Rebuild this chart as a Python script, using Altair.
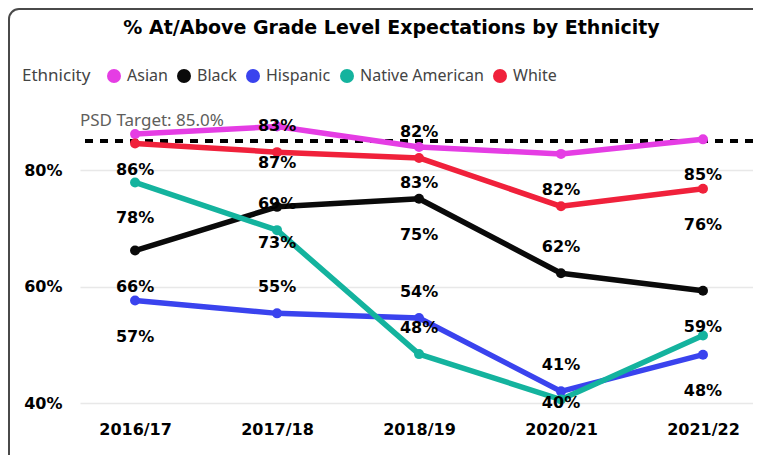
import altair as alt
import pandas as pd

periods = ["2016/17", "2017/18", "2018/19", "2020/21", "2021/22"]
groups = ["Asian", "Black", "Hispanic", "Native American", "White"]
colors = ["#E53DE4", "#0A0A0A", "#3A43EE", "#14B39E", "#F0213B"]

asian = [86.2, 87.5, 84.0, 82.8, 85.3]
black = [66.2, 73.7, 75.1, 62.3, 59.3]
hispanic = [57.6, 55.4, 54.6, 42.0, 48.3]
native_american = [77.9, 69.7, 48.4, 40.6, 51.6]
white = [84.6, 83.1, 82.1, 73.8, 76.8]

asian_labels = ["86%", "87%", "83%", "82%", "85%"]
black_labels = ["66%", "73%", "75%", "62%", "59%"]
hispanic_labels = ["57%", "55%", "54%", "41%", "48%"]
native_american_labels = ["78%", "69%", "48%", "40%", None]
white_labels = [None, "83%", "82%", None, "76%"]

asian_side = ["below", "below", "below", "below", "below"]
black_side = ["below", "below", "below", "above", "below"]
hispanic_side = ["below", "above", "above", "above", "below"]
native_american_side = ["below", "above", "above", "floor", None]
white_side = [None, "above", "above", None, "below"]

target = 85.0
y_ticks = [40, 60, 80]
y_domain = [40, 90]

series = {
    "Asian": (asian, asian_labels, asian_side),
    "Black": (black, black_labels, black_side),
    "Hispanic": (hispanic, hispanic_labels, hispanic_side),
    "Native American": (native_american, native_american_labels, native_american_side),
    "White": (white, white_labels, white_side),
}

rows = []
for g in groups:
    vals, labs, sides = series[g]
    for p, v, l, s in zip(periods, vals, labs, sides):
        rows.append({"period": p, "group": g, "value": v, "label": l, "side": s,
                     "label_y": y_domain[0] if s == "floor" else v})
df = pd.DataFrame(rows)
lab_df = df[df["label"].notna()].copy()

target_df = pd.DataFrame({"target": [target], "text": [f"PSD Target: {target:.1f}%"]})
frame_df = pd.DataFrame({"frame": [0]})

yscale = alt.Scale(domain=y_domain, nice=False, zero=False)
xscale = alt.Scale(type="point", padding=0.37, align=0.524)

x_enc = alt.X("period:N", sort=periods, scale=xscale,
              axis=alt.Axis(title=None, labelFont="DejaVu Sans", labelFontWeight="bold",
                            labelFontSize=16, labelColor="#000000", labelPadding=18,
                            ticks=False, tickSize=0, domain=False, grid=False, labelAngle=0))
y_enc = alt.Y("value:Q", scale=yscale,
              axis=alt.Axis(title=None, values=y_ticks, labelExpr="datum.value + '%'",
                            labelFont="DejaVu Sans", labelFontWeight="bold", labelFontSize=16,
                            labelColor="#000000", labelPadding=18, ticks=False, tickSize=0,
                            domain=False, grid=True, gridColor="#E8E8E8", gridWidth=1.5))

frame_color = "#4a4a4a"
frame_top = alt.Chart(frame_df).mark_rule(color=frame_color, strokeWidth=2).encode(
    x=alt.value(-61), x2=alt.value(700), y=alt.value(-103))
frame_left = alt.Chart(frame_df).mark_rule(color=frame_color, strokeWidth=2).encode(
    x=alt.value(-71), y=alt.value(-93), y2=alt.value(400))
frame_corner = alt.Chart(frame_df).mark_arc(
    color=frame_color, innerRadius=9, radius=11, theta=4.7124, theta2=6.2832
).encode(x=alt.value(-61), y=alt.value(-93))

rule = alt.Chart(target_df).mark_rule(
    color="#000000", strokeWidth=4, strokeDash=[8, 7]
).encode(y=alt.Y("target:Q", scale=yscale))

target_text = alt.Chart(target_df).mark_text(
    align="left", baseline="middle", dy=-20, font="Noto Sans", fontSize=17, color="#605E5C"
).encode(x=alt.value(0), y=alt.Y("target:Q", scale=yscale), text="text:N")

lines = alt.Chart(df).mark_line(
    strokeWidth=5.5, strokeCap="round", strokeJoin="round",
    point=alt.OverlayMarkDef(filled=True, size=100, opacity=1)
).encode(
    x=x_enc, y=y_enc,
    color=alt.Color("group:N", scale=alt.Scale(domain=groups, range=colors), legend=alt.Legend(
        title="Ethnicity", orient="none", legendX=-58, legendY=-44, direction="horizontal",
        titleOrient="left", symbolType="circle", symbolSize=196, symbolFillColor="#000000",
        symbolStrokeWidth=0, labelFont="Noto Sans", labelFontSize=16, labelColor="#444444",
        titleFont="Noto Sans", titleFontSize=17, titleFontWeight="normal", titleColor="#444444",
        labelOffset=5, columnPadding=8, titlePadding=15)),
)

label_layers = []
for side, dy in [("above", -26), ("below", 36), ("floor", 0)]:
    label_layers.append(
        alt.Chart(lab_df).transform_filter(alt.datum.side == side).mark_text(
            font="DejaVu Sans", fontWeight="bold", fontSize=16, color="#000000",
            baseline="middle", align="center", dy=dy
        ).encode(
            x=alt.X("period:N", sort=periods, scale=xscale),
            y=alt.Y("label_y:Q", scale=yscale),
            text="label:N",
        )
    )

chart = alt.layer(frame_top, frame_left, frame_corner, rule, target_text, lines,
                  *label_layers).properties(
    width=673, height=291,
    title=alt.TitleParams(text="% At/Above Grade Level Expectations by Ethnicity",
                          font="DejaVu Sans", fontSize=19, fontWeight="bold", color="#000000",
                          anchor="middle", frame="group", baseline="middle", dx=-25, offset=-39),
    autosize=alt.AutoSizeParams(type="none"),
    padding={"left": 72, "top": 104, "right": 0, "bottom": 52},
    background="#ffffff",
).configure_view(stroke=None)

chart.save("out.html", embed_options={"renderer": "svg", "actions": False})
